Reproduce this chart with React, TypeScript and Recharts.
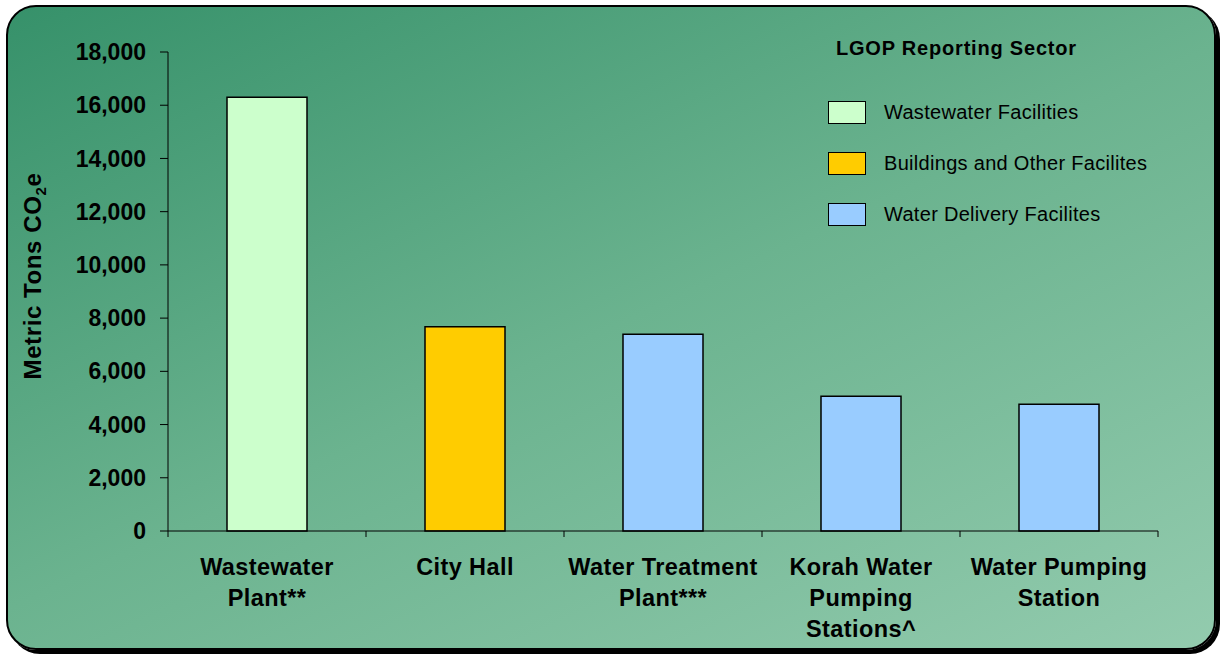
import React from 'react'
import { BarChart, Bar, XAxis, YAxis, Cell, Legend } from 'recharts'

const facilities = [
  'Wastewater Plant**',
  'City Hall',
  'Water Treatment Plant***',
  'Korah Water Pumping Stations^',
  'Water Pumping Station',
]
const facilityLabelLines = [
  ['Wastewater', 'Plant**'],
  ['City Hall'],
  ['Water Treatment', 'Plant***'],
  ['Korah Water', 'Pumping', 'Stations^'],
  ['Water Pumping', 'Station'],
]
const emissions = [16300, 7680, 7390, 5060, 4760]
const facilitySector = [0, 1, 2, 2, 2]

const sectors = ['Wastewater Facilities', 'Buildings and Other Facilites', 'Water Delivery Facilites']
const sectorColors = ['#CCFFCC', '#FFCC00', '#99CCFF']

const yTicks = [0, 2000, 4000, 6000, 8000, 10000, 12000, 14000, 16000, 18000]

const data = facilities.map((name, i) => ({ name, value: emissions[i], sector: facilitySector[i] }))

const FONT = '"Liberation Sans", Arial, sans-serif'

function FacilityTick(props: any) {
  const { x, y, payload, index } = props
  const half = payload?.offset || 99
  const lines = facilityLabelLines[index] || [payload.value]
  const last = index === facilities.length - 1
  return (
    <g>
      <line x1={x - half} y1={y} x2={x - half} y2={y + 6} stroke="#000" strokeWidth={1} />
      {last && <line x1={x + half} y1={y} x2={x + half} y2={y + 6} stroke="#000" strokeWidth={1} />}
      {lines.map((line: string, i: number) => (
        <text
          key={i}
          x={x}
          y={y + 44 + i * 31}
          textAnchor="middle"
          fontFamily={FONT}
          fontWeight="bold"
          fontSize={23.5}
          letterSpacing={0.4}
          fill="#000"
        >
          {line}
        </text>
      ))}
    </g>
  )
}

function YLabel(props: any) {
  const vb = props.viewBox || { x: 0, y: 52, width: 168, height: 479 }
  const cx = vb.x + 41
  const cy = vb.y + 224
  return (
    <text
      x={cx}
      y={cy}
      transform={`rotate(-90, ${cx}, ${cy})`}
      textAnchor="middle"
      fontFamily={FONT}
      fontWeight="bold"
      fontSize={24}
      letterSpacing={0.6}
      fill="#000"
    >
      Metric Tons CO<tspan fontSize={15} dy={5}>2</tspan>
      <tspan dy={-5} fontSize={24}>e</tspan>
    </text>
  )
}

function SectorLegend() {
  return (
    <div style={{ position: 'relative', width: 360, height: 220, fontFamily: FONT, color: '#000' }}>
      <div
        style={{
          position: 'absolute',
          left: 8,
          top: 6,
          fontSize: 20,
          lineHeight: '24px',
          fontWeight: 'bold',
          letterSpacing: 0.8,
          whiteSpace: 'nowrap',
        }}
      >
        LGOP Reporting Sector
      </div>
      {sectors.map((s, i) => (
        <div
          key={s}
          style={{ position: 'absolute', left: 0, top: 70 + i * 51, height: 24, display: 'flex', alignItems: 'center', whiteSpace: 'nowrap' }}
        >
          <span
            style={{
              display: 'inline-block',
              boxSizing: 'border-box',
              width: 38,
              height: 23,
              background: sectorColors[i],
              border: '1.5px solid #000',
            }}
          />
          <span style={{ marginLeft: 18, fontSize: 20, lineHeight: '24px', letterSpacing: 0.3 }}>{s}</span>
        </div>
      ))}
    </div>
  )
}

export default function App() {
  return (
    <div style={{ position: 'absolute', left: 0, top: 0, width: 1221, height: 655, overflow: 'hidden', background: '#fff' }}>
      <div
        style={{
          position: 'absolute',
          left: 6,
          top: 5,
          width: 1210,
          height: 645,
          boxSizing: 'border-box',
          border: '2px solid #000',
          borderRadius: 30,
          boxShadow: '4px 4px 0 #000',
          background: 'linear-gradient(155deg, #36916a 0%, #6bb38f 50%, #93cbae 100%)',
        }}
      />
      <div style={{ position: 'absolute', left: 0, top: 0 }}>
        <BarChart width={1221} height={655} data={data} margin={{ top: 52, right: 63, left: 0, bottom: 0 }}>
          <XAxis
            dataKey="name"
            height={124}
            interval={0}
            tickLine={false}
            tickSize={0}
            tickMargin={0}
            axisLine={{ stroke: '#000', strokeWidth: 1 }}
            tick={<FacilityTick />}
          />
          <YAxis
            width={168}
            domain={[0, 18000]}
            ticks={yTicks}
            interval={0}
            tickSize={8}
            tickMargin={14}
            axisLine={{ stroke: '#000', strokeWidth: 1 }}
            tickLine={{ stroke: '#000', strokeWidth: 1 }}
            tick={{ fill: '#000', fontSize: 23, fontWeight: 'bold', fontFamily: FONT }}
            tickFormatter={(v: number) => v.toLocaleString('en-US')}
            label={{ content: <YLabel /> }}
          />
          <Legend
            layout="vertical"
            align="center"
            verticalAlign="middle"
            content={<SectorLegend />}
            wrapperStyle={{ position: 'absolute', left: 828, top: 30, width: 360, height: 220 }}
          />
          <Bar dataKey="value" barSize={80} stroke="#000" strokeWidth={1.5} isAnimationActive={false}>
            {data.map((d, i) => (
              <Cell key={i} fill={sectorColors[d.sector]} />
            ))}
          </Bar>
        </BarChart>
      </div>
    </div>
  )
}
